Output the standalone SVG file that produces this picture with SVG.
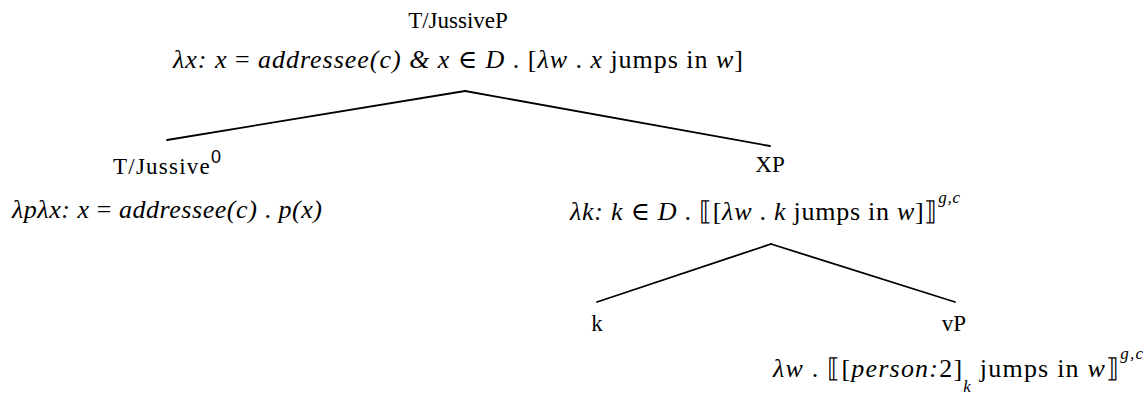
<svg xmlns="http://www.w3.org/2000/svg" width="1147" height="400" viewBox="0 0 1147 400">
<style>
text{font-family:"Liberation Serif","DejaVu Serif",serif;fill:#000}
.lbl{font-size:23px}
.sem{font-size:26px}
.i{font-style:italic}
.sup{font-size:17px;font-style:italic}
.zero{font-family:"Liberation Sans","DejaVu Sans",sans-serif;font-size:18px}
.edge{stroke:#000;stroke-width:1.8;fill:none;stroke-linecap:round}
</style>
<rect width="1147" height="400" fill="#fff"/>
<g id="connectors">
<line class="edge" x1="465" y1="91" x2="167" y2="140"/>
<line class="edge" x1="465" y1="91" x2="770" y2="146"/>
<line class="edge" x1="771" y1="244" x2="597" y2="302"/>
<line class="edge" x1="771" y1="244" x2="955" y2="302"/>
</g>
<g id="node-TJussiveP">
<text class="lbl" x="458" y="28" text-anchor="middle">T/JussiveP</text>
<text class="sem" x="173" y="68" textLength="570" lengthAdjust="spacing"><tspan class="i">λx: x</tspan> = <tspan class="i">addressee(c) &amp; x</tspan> ∈ <tspan class="i">D</tspan> . [<tspan class="i">λw</tspan> . <tspan class="i">x</tspan> jumps in <tspan class="i">w</tspan>]</text>
</g>
<g id="node-TJussive0">
<text class="lbl" x="113" y="174" textLength="108" lengthAdjust="spacing">T/Jussive<tspan class="zero" dy="-11">0</tspan></text>
<text class="sem" x="12" y="218" textLength="310" lengthAdjust="spacing"><tspan class="i">λpλx: x</tspan> = <tspan class="i">addressee(c)</tspan> . <tspan class="i">p(x)</tspan></text>
</g>
<g id="node-XP">
<text class="lbl" x="770" y="172" text-anchor="middle">XP</text>
<text class="sem" x="570" y="220" textLength="390" lengthAdjust="spacing"><tspan class="i">λk: k</tspan> ∈ <tspan class="i">D</tspan> . ⟦[<tspan class="i">λw</tspan> . <tspan class="i">k</tspan> jumps in <tspan class="i">w</tspan>]⟧<tspan class="sup" dy="-17">g,c</tspan></text>
</g>
<g id="node-k">
<text class="lbl" x="597" y="331" text-anchor="middle">k</text>
</g>
<g id="node-vP">
<text class="lbl" x="954" y="331" text-anchor="middle">vP</text>
<text class="sem" x="773" y="377" textLength="370" lengthAdjust="spacing"><tspan class="i">λw</tspan> . ⟦[<tspan class="i">person:</tspan>2]<tspan class="sup" dy="15">k</tspan><tspan dy="-15"> jumps in </tspan><tspan class="i">w</tspan>⟧<tspan class="sup" dy="-18">g,c</tspan></text>
</g>
</svg>
